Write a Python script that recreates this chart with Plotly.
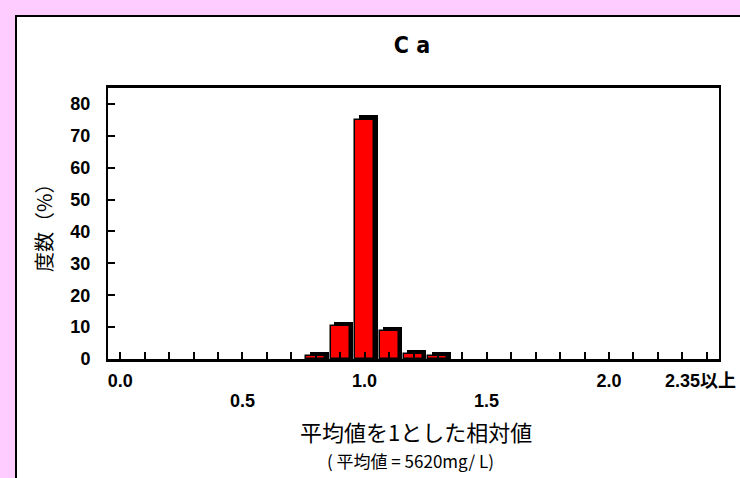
import plotly.graph_objects as go

# ---- data ----
categories = ["0.0", "0.1", "0.2", "0.3", "0.4", "0.5", "0.6", "0.7", "0.8", "0.9",
              "1.0", "1.1", "1.2", "1.3", "1.4", "1.5", "1.6", "1.7", "1.8", "1.9",
              "2.0", "2.1", "2.2", "2.3", "2.35以上"]
values = [0, 0, 0, 0, 0, 0, 0, 0, 0.8, 10.3,
          75.1, 8.8, 1.6, 0.8, 0, 0, 0, 0, 0, 0,
          0, 0, 0, 0, 0]
row1_labels = ["0.0", "1.0", "2.0"]
row2_labels = ["0.5", "1.5"]
edge_label = "2.35以上"
y_ticks = [0, 10, 20, 30, 40, 50, 60, 70, 80]

# ---- layout geometry (pixels) ----
W, H = 740, 478
L, R, T, B = 108, 21, 88, 119
PW, PH = W - L - R, H - T - B
YMAX = 85

def px_x(p):
    return (p - L) / PW

def px_y(p):
    return (H - B - p) / PH

xpos = list(range(len(categories)))
BAR_W = 0.78
DX = 0.14           # depth offset (category units)
DY = 1.3            # depth offset (value units)

front = [v if v > 0 else None for v in values]
shadow = [v + DY if v > 0 else None for v in values]

fig = go.Figure()
fig.add_trace(go.Bar(
    x=xpos, y=shadow, width=BAR_W, offset=-BAR_W / 2 + DX,
    marker=dict(color="black", line=dict(width=0)),
    hoverinfo="skip", showlegend=False))
fig.add_trace(go.Bar(
    x=xpos, y=front, width=BAR_W, offset=-BAR_W / 2,
    marker=dict(color="#FF0000", line=dict(color="black", width=1.5)),
    name="度数", showlegend=False))

ticktext = [c if c in row1_labels else "" for c in categories]

fig.update_layout(
    width=W, height=H,
    margin=dict(l=L, r=R, t=T, b=B, pad=0, autoexpand=False),
    paper_bgcolor="#FFCCFF",
    plot_bgcolor="white",
    barmode="overlay",
    bargap=0,
    showlegend=False,
    title=dict(text="C a", x=px_x(412), xref="paper", xanchor="center",
               y=1 - 45 / H, yref="container", yanchor="middle",
               font=dict(family="Liberation Sans Narrow, DejaVu Sans Condensed, Liberation Sans, sans-serif",
                         size=23, color="black", weight="bold")),
    font=dict(family="Liberation Sans, Arial, Noto Sans CJK JP, sans-serif", color="black"),
)

tick_font = dict(family="Liberation Sans, Arial, Noto Sans CJK JP, sans-serif",
                 size=18, color="black", weight="bold")
fig.update_xaxes(
    automargin=False,
    range=[-0.5, len(categories) - 0.5],
    tickmode="array", tickvals=xpos, ticktext=ticktext,
    ticks="inside", ticklen=7, tickwidth=2, tickcolor="black",
    showline=True, linecolor="black", linewidth=2.5, mirror=True,
    showgrid=False, zeroline=False,
    tickfont=tick_font,
    ticklabelstandoff=4,
)
fig.update_yaxes(
    automargin=False,
    range=[0, YMAX],
    tickmode="array", tickvals=y_ticks,
    ticks="inside", ticklen=7, tickwidth=1.5, tickcolor="black",
    showline=True, linecolor="black", linewidth=2, mirror=True,
    showgrid=False, zeroline=False,
    tickfont=dict(family="Liberation Sans, Arial, sans-serif",
                  size=18, color="black", weight="bold"),
    ticklabelstandoff=12,
)

# white panel with black border
fig.add_shape(type="rect", xref="paper", yref="paper",
              x0=px_x(16), x1=px_x(800), y0=px_y(560), y1=px_y(16),
              fillcolor="white", line=dict(color="black", width=2), layer="below")

for lab in row2_labels:
    fig.add_annotation(x=categories.index(lab), xref="x", y=px_y(400.5), yref="paper",
                       text=lab, showarrow=False, xanchor="center", yanchor="middle",
                       font=tick_font)
# last category label sits against the right edge
fig.add_annotation(x=px_x(738), xref="paper", y=px_y(380.5), yref="paper",
                   text=edge_label, showarrow=False, xanchor="right", yanchor="middle",
                   font=tick_font)

cjk = "Noto Sans CJK JP, sans-serif"
fig.add_annotation(x=px_x(43.5), xref="paper", y=0.5, yref="paper",
                   text="度数（%）", textangle=-90, showarrow=False,
                   xanchor="center", yanchor="middle",
                   font=dict(family=cjk, size=20, color="black"))
fig.add_annotation(x=px_x(416), xref="paper", y=px_y(431), yref="paper",
                   text="平均値を1とした相対値", showarrow=False,
                   xanchor="center", yanchor="middle",
                   font=dict(family=cjk, size=22, color="black"))
fig.add_annotation(x=px_x(410), xref="paper", y=px_y(460), yref="paper",
                   text="( 平均値 = 5620mg/ L)", showarrow=False,
                   xanchor="center", yanchor="middle",
                   font=dict(family=cjk, size=17, color="black"))

fig.write_html(
    "out.html",
    config={"displayModeBar": False},
    post_script="document.body.style.margin='0';document.body.style.overflow='hidden';"
                "document.body.style.background='#FFCCFF';",
)
